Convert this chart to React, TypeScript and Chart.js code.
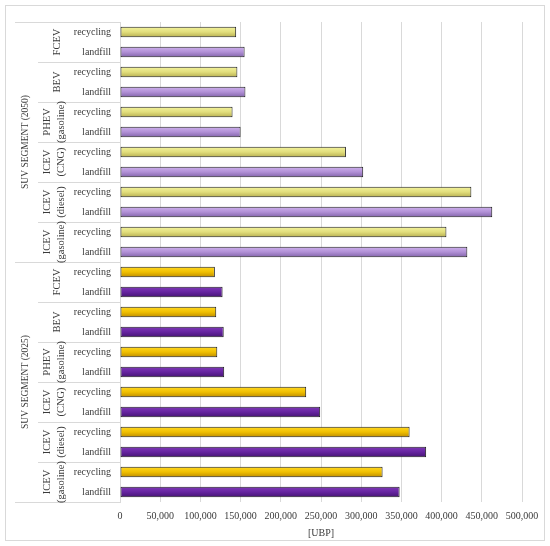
import { useEffect, useRef } from 'react';
import { Chart, registerables } from 'chart.js';

Chart.register(...registerables);

const segments = ['SUV SEGMENT (2050)', 'SUV SEGMENT (2025)'];
const vehicles = [['FCEV'], ['BEV'], ['PHEV', '(gasoline)'], ['ICEV', '(CNG)'], ['ICEV', '(diesel)'], ['ICEV', '(gasoline)']];
const endOfLife = ['recycling', 'landfill'];

const recycling2050 = [144500, 146000, 140000, 281000, 437000, 406000];
const landfill2050 = [155000, 156000, 150000, 302500, 463000, 432000];
const recycling2025 = [118000, 119700, 121000, 231600, 360200, 326600];
const landfill2025 = [127600, 129000, 129600, 249000, 380800, 347800];

const xTicksMax = 500000;
const xTicksStep = 50000;

// gradient stops per bar kind: [top, middle, bottom]
const shades: Record<string, string[]> = {
  recycling2050: ['#f2f29c', '#e2de7c', '#b8b052'],
  landfill2050: ['#cdb0ec', '#b190d6', '#8466ab'],
  recycling2025: ['#ffd620', '#f0c000', '#c08e00'],
  landfill2025: ['#7e38b6', '#6624a0', '#461574'],
};

const FONT = '"Liberation Serif", "Times New Roman", serif';
const TEXT = '#3a3a3a';
const LINE = '#d9d9d9';

const labels: string[] = [];
const values: number[] = [];
const kinds: string[] = [];
[
  [recycling2050, landfill2050, '2050'],
  [recycling2025, landfill2025, '2025'],
].forEach(([rec, land, yr]: any) => {
  vehicles.forEach((_, i) => {
    labels.push(endOfLife[0]);
    values.push(rec[i]);
    kinds.push('recycling' + yr);
    labels.push(endOfLife[1]);
    values.push(land[i]);
    kinds.push('landfill' + yr);
  });
});

const groupLabels = {
  id: 'groupLabels',
  afterDraw(chart: any) {
    const { ctx, chartArea } = chart;
    const y = chart.scales.y;
    const half = Math.abs(y.getPixelForValue(1) - y.getPixelForValue(0)) / 2;
    const edge = (i: number) => y.getPixelForValue(i) - half;

    ctx.save();
    ctx.strokeStyle = LINE;
    ctx.lineWidth = 1;
    ctx.strokeRect(5.5, 5.5, 539, 535);

    // separators left of the axis
    for (let i = 0; i <= labels.length; i += 2) {
      const py = Math.round(i === labels.length ? y.getPixelForValue(i - 1) + half : edge(i)) + 0.5;
      const x0 = i % 12 === 0 ? 15 : 38;
      ctx.beginPath();
      ctx.moveTo(x0, py);
      ctx.lineTo(chartArea.left, py);
      ctx.stroke();
    }

    ctx.fillStyle = TEXT;
    ctx.textAlign = 'center';
    ctx.textBaseline = 'middle';

    const rotated = (text: string, x: number, cy: number) => {
      ctx.save();
      ctx.translate(x, cy);
      ctx.rotate(-Math.PI / 2);
      ctx.fillText(text, 0, 0);
      ctx.restore();
    };

    segments.forEach((seg, s) => {
      const cy = (edge(s * 12) + edge(s * 12 + 11) + 2 * half) / 2;
      ctx.font = `9.5px ${FONT}`;
      rotated(seg, 25, cy);
      ctx.font = `10.5px ${FONT}`;
      vehicles.forEach((lines, v) => {
        const i = s * 12 + v * 2;
        const gy = (edge(i) + edge(i + 1) + 2 * half) / 2;
        if (lines.length === 1) rotated(lines[0], 57, gy);
        else {
          rotated(lines[0], 47, gy);
          rotated(lines[1], 61, gy);
        }
      });
    });
    ctx.restore();
  },
};

export default function App() {
  const canvasRef = useRef<HTMLCanvasElement>(null);

  useEffect(() => {
    if (!canvasRef.current) return;
    const chart = new Chart(canvasRef.current, {
      type: 'bar',
      data: {
        labels,
        datasets: [
          {
            data: values,
            backgroundColor: (c: any) => {
              const stops = shades[kinds[c.dataIndex]];
              const { chart: ch } = c;
              if (!ch.chartArea || c.type !== 'data') return stops[1];
              const py = ch.scales.y.getPixelForValue(c.dataIndex);
              const g = ch.ctx.createLinearGradient(0, py - 5, 0, py + 5);
              g.addColorStop(0, stops[0]);
              g.addColorStop(0.5, stops[1]);
              g.addColorStop(1, stops[2]);
              return g;
            },
            borderColor: '#1e1e1e',
            borderWidth: 1,
            borderSkipped: false,
            barPercentage: 0.53,
            categoryPercentage: 1,
          },
        ],
      },
      options: {
        indexAxis: 'y',
        animation: false,
        responsive: true,
        maintainAspectRatio: false,
        layout: { padding: { top: 22, right: 28, bottom: 3, left: 0 } },
        plugins: { legend: { display: false }, tooltip: { enabled: false } },
        scales: {
          x: {
            min: 0,
            max: xTicksMax,
            grid: { color: LINE, drawTicks: false },
            border: { display: false },
            ticks: {
              stepSize: xTicksStep,
              padding: 8,
              color: TEXT,
              font: { family: FONT, size: 10 },
              callback: (v: any) => Number(v).toLocaleString('en-US'),
            },
            title: {
              display: true,
              text: '[UBP]',
              color: TEXT,
              font: { family: FONT, size: 10 },
              padding: { top: -3, bottom: 4 },
            },
          },
          y: {
            grid: { display: false, drawTicks: false },
            border: { display: true, color: LINE },
            ticks: {
              padding: 9,
              color: TEXT,
              font: { family: FONT, size: 10 },
              autoSkip: false,
            },
            afterFit: (scale: any) => {
              scale.width = 120;
            },
          },
        },
      },
      plugins: [groupLabels],
    });
    return () => chart.destroy();
  }, []);

  return (
    <div style={{ position: 'fixed', left: 0, top: 0, width: 550, height: 546, background: '#fff' }}>
      <canvas ref={canvasRef} />
    </div>
  );
}
